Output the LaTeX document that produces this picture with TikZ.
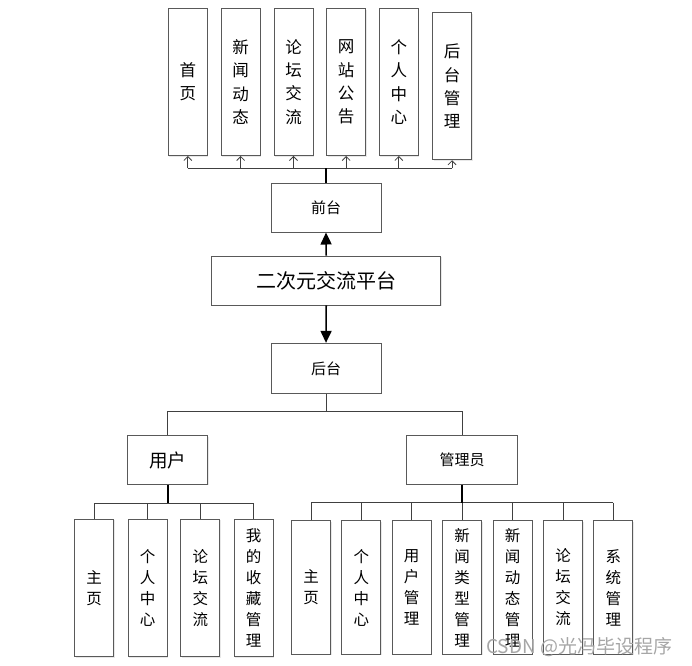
\documentclass[tikz,border=0pt]{standalone}
\usepackage{fontspec}
\setmainfont{Noto Sans CJK SC}
\usetikzlibrary{arrows.meta,shadows}
\begin{document}
\begin{tikzpicture}[x=1pt,y=-1pt,
  box/.style={draw=black!65, line width=0.9pt, fill=white, inner sep=0pt,
    drop shadow={shadow xshift=1pt, shadow yshift=-1pt, fill=black!15, opacity=0.6}},
  topbox/.style={box, minimum width=39pt, minimum height=147pt, align=center,
    font=\fontsize{16.5}{23.3}\selectfont},
  botbox/.style={box, minimum width=39pt, minimum height=136pt, align=center,
    font=\fontsize{15.5}{21}\selectfont},
  midbox/.style={box, font=\fontsize{15}{18}\selectfont},
  conn/.style={draw=black!75, line width=0.8pt},
  stem/.style={draw=black, line width=1.6pt},
  openarr/.style={conn, -{Straight Barb[length=4pt,width=8pt]}},
  mainarr/.style={draw=black, line width=1.6pt, -{Triangle[length=12pt,width=11pt]}}
]
\useasboundingbox (0,0) rectangle (692,665);

% top row
\node[topbox] (t1) at (187.8,82) {首\\页};
\node[topbox] (t2) at (240.7,82) {新\\闻\\动\\态};
\node[topbox] (t3) at (293.5,82) {论\\坛\\交\\流};
\node[topbox] (t4) at (346.2,82) {网\\站\\公\\告};
\node[topbox] (t5) at (398.8,82) {个\\人\\中\\心};
\node[topbox] (t6) at (452.0,86.3) {后\\台\\管\\理};

\node[midbox, minimum width=110pt, minimum height=48.7pt] (qt) at (326,207.7) {前台};
\node[box, minimum width=229pt, minimum height=49pt, font=\fontsize{20}{24}\selectfont] (pt) at (326.2,280.5) {二次元交流平台};
\node[midbox, minimum width=110pt, minimum height=50pt] (ht) at (326,368.3) {后台};

\coordinate (bus) at (326,168.3);
\draw[conn] (t1.south |- bus) -- (t6.south |- bus);
\foreach \n in {t1,t2,t3,t4,t5,t6} \draw[openarr] (\n.south |- bus) -- (\n.south);
\draw[stem] (qt.north) -- (bus);

\draw[mainarr] (pt.north) -- (qt.south);
\draw[mainarr] (pt.south) -- (ht.north);

% second level
\node[box, minimum width=80pt, minimum height=48.6pt, font=\fontsize{18.5}{22}\selectfont] (yh) at (167.7,460) {用户};
\node[midbox, minimum width=110.6pt, minimum height=48.6pt] (gly) at (462,460) {管理员};

\coordinate (br) at (326,411);
\draw[conn] (ht.south) -- (br);
\draw[conn] (yh.north) |- (br) -| (gly.north);

% user children
\node[botbox, minimum height=137.4pt] (u1) at (94.2,588) {主\\页};
\node[botbox, minimum height=137.4pt] (u2) at (147.5,588) {个\\人\\中\\心};
\node[botbox, minimum height=137.4pt] (u3) at (200.3,588) {论\\坛\\交\\流};
\node[botbox, minimum height=137.4pt] (u4) at (253.5,588) {我\\的\\收\\藏\\管\\理};
\coordinate (ub) at (167.7,503.3);
\draw[conn] (u1.north |- ub) -- (u4.north |- ub);
\foreach \n in {u1,u2,u3,u4} \draw[conn] (\n.north |- ub) -- (\n.north);
\draw[stem] (yh.south) -- (ub);

% admin children
\node[botbox, minimum height=133.6pt] (a1) at (311,587.5) {主\\页};
\node[botbox, minimum height=133.6pt] (a2) at (361.3,587.5) {个\\人\\中\\心};
\node[botbox, minimum height=133.6pt] (a3) at (411.7,587.5) {用\\户\\管\\理};
\node[botbox, minimum height=133.6pt] (a4) at (462,587.5) {新\\闻\\类\\型\\管\\理};
\node[botbox, minimum height=133.6pt] (a5) at (512.7,587.5) {新\\闻\\动\\态\\管\\理};
\node[botbox, minimum height=133.6pt] (a6) at (563,587.5) {论\\坛\\交\\流};
\node[botbox, minimum height=133.6pt] (a7) at (613.3,587.5) {系\\统\\管\\理};
\coordinate (ab) at (462,502.7);
\draw[conn] (a1.north |- ab) -- (a7.north |- ab);
\foreach \n in {a1,a2,a3,a4,a5,a6,a7} \draw[conn] (\n.north |- ab) -- (\n.north);
\draw[stem] (gly.south) -- (ab);

% watermark
\node[text=black!35, font=\fontsize{19}{22}\selectfont, anchor=west, inner sep=0pt] (wm) at (486,647) {CSDN @光冯毕设程序};
\end{tikzpicture}
\end{document}
